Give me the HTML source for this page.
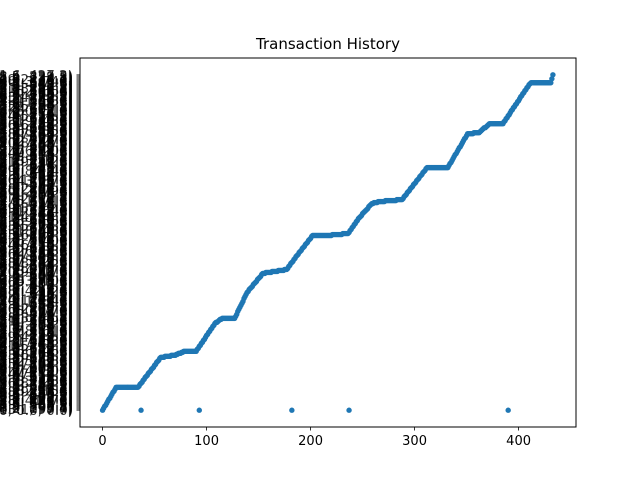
<!DOCTYPE html>
<html><head><meta charset="utf-8"><style>
html,body{margin:0;padding:0;background:#fff;}
svg{display:block;font-family:"DejaVu Sans","Liberation Sans",sans-serif;}
</style></head><body>
<svg id="chart" width="640" height="480" viewBox="0 0 640 480">
<rect width="640" height="480" fill="#fff"/>
<text x="328" y="49" text-anchor="middle" font-size="15" fill="#000">Transaction History</text>
<g id="ylabels" fill-opacity="0.8"></g>
<g id="yticks"></g>
<g id="xaxis"></g>
<g id="points"></g>
<rect x="80" y="58" width="496" height="369" fill="none" stroke="#000" stroke-width="1"/>
</svg>
<script>
// breakpoints of the cumulative series (x = transaction index, y = category index)
const breakX = [0,13,34,56,69,79,90,108,115,127,139,154,177,187,202,216,236,247,259,266,288,312,332,351,362,372,385,408,412,431,433];
const breakY = [0,23,23,53,55,59,59,87,92,92,118,137,141,155,175,175,177,193,207,209,211,243,243,277,278,287,287,323,328,328,336];
const outlierX = [37,93,182,237,390];
const outlierY = [0,0,0,0,0];
const xTicks = [0,100,200,300,400];
const categoryCount = 337;

const NS="http://www.w3.org/2000/svg";
const L=80,R=576,T=58,B=427;
const xMin=-21.7,xMax=455.2;
const yMin=-0.05*(categoryCount-1), yMax=1.05*(categoryCount-1);
const sx=v=>L+(v-xMin)/(xMax-xMin)*(R-L);
const sy=v=>B-(v-yMin)/(yMax-yMin)*(B-T);
function mk(tag,attrs,parent){const e=document.createElementNS(NS,tag);for(const k in attrs)e.setAttribute(k,attrs[k]);parent.appendChild(e);return e;}

const yl=document.getElementById('ylabels'), yt=document.getElementById('yticks');
for(let i=0;i<categoryCount;i++){
  const y=sy(i);
  const t=mk('line',{x1:L-3.5,x2:L,y1:y,y2:y,stroke:'#000','stroke-width':0.5},yt);
  
  
  const lab=mk('text',{x:L-7,y:y+5,'text-anchor':'end','font-size':13.5,fill:'#000'},yl);
  
  
  const a=(i*7919)%97, b=((i*131)%900)/10, c=((i*977)%9000)/10;
  lab.textContent=(i===0)?'(0, 0.0, 0.0)':'('+a+', '+b+', '+c+')';
}
const xa=document.getElementById('xaxis');
xTicks.forEach(v=>{
  const x=sx(v);
  const t=mk('line',{x1:x,x2:x,y1:B,y2:B+3.5,stroke:'#000','stroke-width':0.8},xa);
  
  
  const lab=mk('text',{x:x,y:B+18,'text-anchor':'middle','font-size':13,fill:'#000'},xa);
  
  
  lab.textContent=v;
});
const pg=document.getElementById('points');
function dot(x,y){
  const c=mk('circle',{cx:sx(x),cy:sy(y),r:2.7,fill:'#1f77b4'},pg);
  
  
}
for(let k=0;k<breakX.length-1;k++){
  const x0=breakX[k],x1=breakX[k+1],y0=breakY[k],y1=breakY[k+1];
  for(let x=x0;x<x1;x++){dot(x,Math.round(y0+(y1-y0)*(x-x0)/(x1-x0)));}
}
dot(breakX[breakX.length-1],breakY[breakY.length-1]);
outlierX.forEach((x,i)=>dot(x,outlierY[i]));
</script>
</body></html>
